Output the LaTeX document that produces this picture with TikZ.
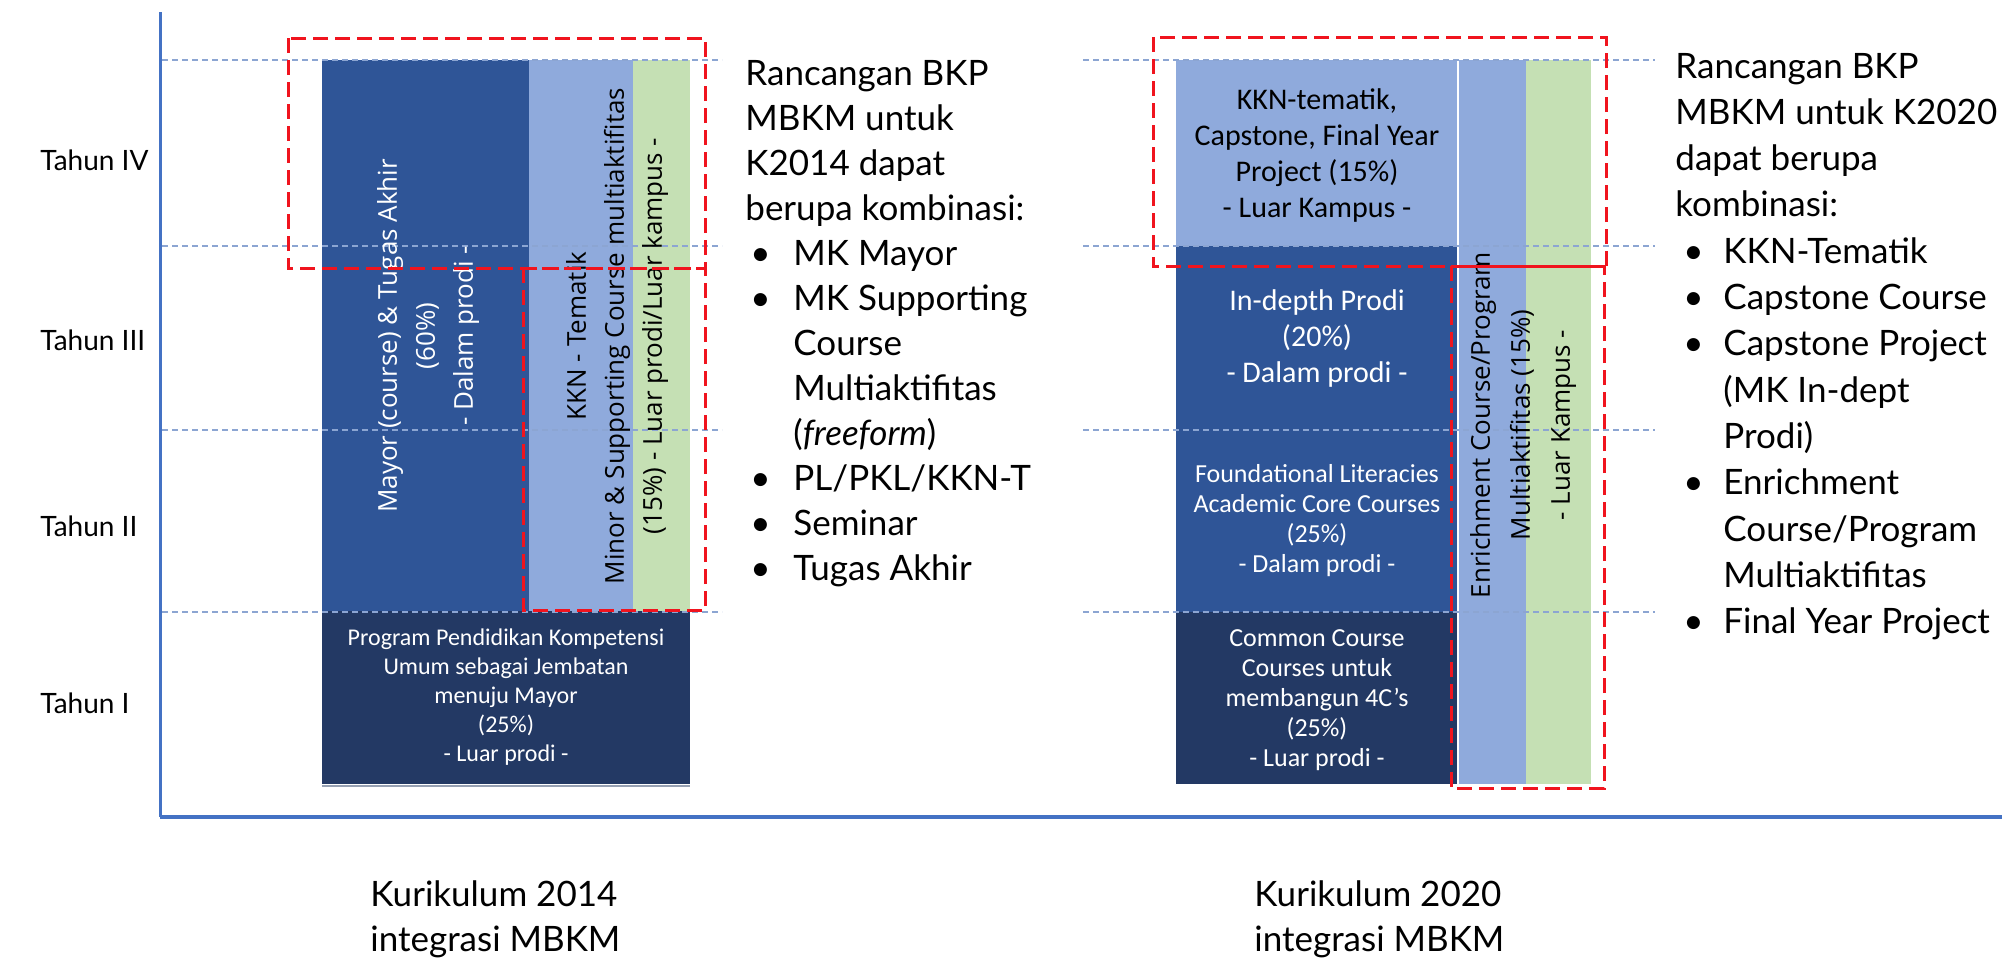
\documentclass[tikz,border=0pt]{standalone}
\usepackage{fontspec}
\setmainfont{Lato}
\newfontfamily\gillf{Lato}
\newfontfamily\calf{Carlito}
\newfontfamily\segf{Open Sans}
\definecolor{axisblue}{RGB}{68,114,196}
\definecolor{guide}{RGB}{140,165,210}
\definecolor{midblue}{RGB}{47,85,151}
\definecolor{navy}{RGB}{35,57,100}
\definecolor{lightblue}{RGB}{143,170,220}
\definecolor{lightgreen}{RGB}{197,224,180}
\definecolor{dashred}{RGB}{240,20,30}
\definecolor{shadowgray}{RGB}{150,160,178}
\begin{document}
\begin{tikzpicture}[x=0.5pt,y=-0.5pt,
  axisline/.style={draw=axisblue, line width=1.5pt},
  guideline/.style={draw=guide, line width=1pt, dash pattern=on 3pt off 2pt},
  reddash/.style={draw=dashred, line width=1.5pt, dash pattern=on 7.5pt off 3.5pt},
  sidetext/.style={font=\gillf\fontsize{17.5}{21}\selectfont, anchor=base west, inner sep=0pt},
  yeartext/.style={font=\gillf\fontsize{14}{17}\selectfont, anchor=west, inner sep=0pt},
  bigblock/.style={font=\calf\fontsize{15}{18}\selectfont, align=center, inner sep=0pt},
  smallblock/.style={font=\calf\fontsize{13}{15}\selectfont, align=center, inner sep=0pt},
  rottext/.style={font=\segf\fontsize{13}{19}\selectfont, align=center, inner sep=0pt, rotate=90},
]
\useasboundingbox (0,0) rectangle (2002,959);

% ---------- blocks K2014 ----------
\fill[midblue] (322,60) rectangle (529,611);
\fill[lightblue] (529,60) rectangle (633,611);
\fill[lightgreen] (633,60) rectangle (690,611);
\fill[navy] (322,611) rectangle (690,784);
\draw[shadowgray, line width=1.2pt] (322,786) -- (690,786);

% ---------- blocks K2020 ----------
\fill[lightblue] (1176,60) rectangle (1458,246);
\fill[midblue] (1176,246) rectangle (1458,612);
\fill[navy] (1176,612) rectangle (1458,784);
\fill[lightblue] (1458,60) rectangle (1526,784);
\fill[lightgreen] (1526,60) rectangle (1591,784);
\draw[white, line width=0.6pt] (1458,60) -- (1458,784);

% ---------- axes ----------
\coordinate (ytop) at (160,12);
\coordinate (origin) at (160,817);
\coordinate (xend) at (2002,817);
\draw[axisline] (ytop) -- (origin);
\draw[axisline, line width=2pt] (origin) -- (xend);

% ---------- guide lines ----------
\foreach \yy in {60,246,430,612}{
  \draw[guideline] (162,\yy) -- (722,\yy);
  \draw[guideline] (1083,\yy) -- (1655,\yy);
}

% ---------- year labels ----------
\node[yeartext] (t4) at (40,160) {Tahun IV};
\node[yeartext] (t3) at (40,340) {Tahun III};
\node[yeartext] (t2) at (40,526) {Tahun II};
\node[yeartext] (t1) at (40,703) {Tahun I};

% ---------- block texts K2014 ----------
\node[rottext, text=white] (mayor) at (428,336) {Mayor (course) \& Tugas Akhir\\(60\%)\\- Dalam prodi -};
\node[rottext, text=black] (minor) at (617,336) {KKN - Tematik\\Minor \& Supporting Course multiaktifitas\\(15\%) - Luar prodi/Luar kampus -};
\node[smallblock, text=white, font=\calf\fontsize{12}{14.5}\selectfont] (umum) at (506,697) {Program Pendidikan Kompetensi\\Umum sebagai Jembatan\\menuju Mayor\\(25\%)\\- Luar prodi -};

% ---------- block texts K2020 ----------
\node[bigblock, text=black] (kkn) at (1317,155) {KKN-tematik,\\Capstone, Final Year\\Project (15\%)\\- Luar Kampus -};
\node[bigblock, text=white] (indepth) at (1317,338) {In-depth Prodi\\(20\%)\\- Dalam prodi -};
\node[smallblock, text=white] (found) at (1317,521) {Foundational Literacies\\Academic Core Courses\\(25\%)\\- Dalam prodi -};
\node[smallblock, text=white] (common) at (1317,700) {Common Course\\Courses untuk\\membangun 4C’s\\(25\%)\\- Luar prodi -};
\node[rottext, text=black, font=\segf\fontsize{13}{20}\selectfont] (enrich) at (1523,425) {Enrichment Course/Program\\Multiaktifitas (15\%)\\- Luar Kampus -};

% ---------- red dashed frames ----------
\draw[reddash] (288,38) rectangle (705,268);
\draw[reddash] (523,268) rectangle (705,610);
\draw[reddash] (1153,37) rectangle (1606,266);
\draw[reddash] (1451,266) rectangle (1604,788);

% ---------- left description ----------
\node[sidetext] (la0) at (745,85) {Rancangan BKP};
\node[sidetext] (la1) at (745,130) {MBKM untuk};
\node[sidetext] (la2) at (745,175) {K2014 dapat};
\node[sidetext] (la3) at (745,220) {berupa kombinasi:};
\node[sidetext] (lb4) at (750,265) {•};
\node[sidetext] (la4) at (793,265) {MK Mayor};
\node[sidetext] (lb5) at (750,310) {•};
\node[sidetext] (la5) at (793,310) {MK Supporting};
\node[sidetext] (la6) at (793,355) {Course};
\node[sidetext] (la7) at (793,400) {Multiaktifitas};
\node[sidetext] (la8) at (793,445) {(\textit{freeform})};
\node[sidetext] (lb9) at (750,490) {•};
\node[sidetext] (la9) at (793,490) {PL/PKL/KKN-T};
\node[sidetext] (lb10) at (750,535) {•};
\node[sidetext] (la10) at (793,535) {Seminar};
\node[sidetext] (lb11) at (750,580) {•};
\node[sidetext] (la11) at (793,580) {Tugas Akhir};

% ---------- right description ----------
\node[sidetext] (ra0) at (1675,78) {Rancangan BKP};
\node[sidetext] (ra1) at (1675,124.3) {MBKM untuk K2020};
\node[sidetext] (ra2) at (1675,170.6) {dapat berupa};
\node[sidetext] (ra3) at (1675,216.9) {kombinasi:};
\node[sidetext] (rb4) at (1683,263.2) {•};
\node[sidetext] (ra4) at (1723,263.2) {KKN-Tematik};
\node[sidetext] (rb5) at (1683,309.5) {•};
\node[sidetext] (ra5) at (1723,309.5) {Capstone Course};
\node[sidetext] (rb6) at (1683,355.8) {•};
\node[sidetext] (ra6) at (1723,355.8) {Capstone Project};
\node[sidetext] (ra7) at (1723,402.1) {(MK In-dept};
\node[sidetext] (ra8) at (1723,448.4) {Prodi)};
\node[sidetext] (rb9) at (1683,494.7) {•};
\node[sidetext] (ra9) at (1723,494.7) {Enrichment};
\node[sidetext] (ra10) at (1723,541) {Course/Program};
\node[sidetext] (ra11) at (1723,587.3) {Multiaktifitas};
\node[sidetext] (rb12) at (1683,633.6) {•};
\node[sidetext] (ra12) at (1723,633.6) {Final Year Project};

% ---------- bottom captions ----------
\node[sidetext] (k14a) at (370,906) {Kurikulum 2014};
\node[sidetext] (k14b) at (370,951) {integrasi MBKM};
\node[sidetext] (k20a) at (1254,906) {Kurikulum 2020};
\node[sidetext] (k20b) at (1254,951) {integrasi MBKM};
\end{tikzpicture}
\end{document}
